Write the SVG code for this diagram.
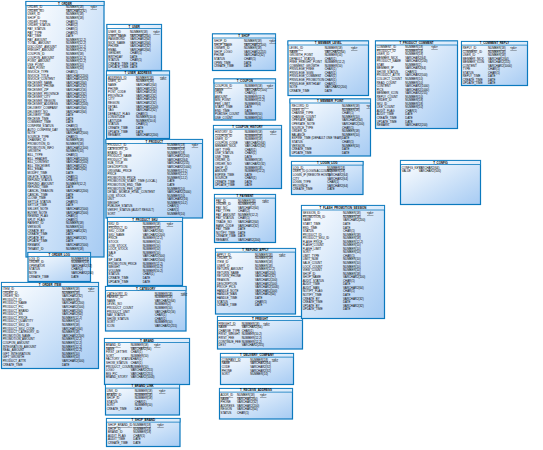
<svg xmlns="http://www.w3.org/2000/svg" width="543" height="450" viewBox="0 0 543 450">
<defs>
<linearGradient id="g" x1="0" y1="0" x2="1" y2="1"><stop offset="0" stop-color="#ffffff"/><stop offset="1" stop-color="#a6cbf3"/></linearGradient>
<linearGradient id="gh" x1="0" y1="0" x2="1" y2="0"><stop offset="0" stop-color="#ffffff"/><stop offset="1" stop-color="#d8e9fa"/></linearGradient>
</defs>
<style>
.box{fill:url(#g);stroke:#0b79be;stroke-width:1.2}
.hd{fill:url(#gh);stroke:#0b79be;stroke-width:0.8}
text{font-family:"Liberation Sans",Arial,sans-serif;font-size:2.9px;fill:#000}
.t{text-anchor:middle;font-weight:bold}
.pk{text-decoration:underline}
</style>
<rect width="543" height="450" fill="#ffffff"/>
<g id="connectors"/>

<g id="t_order">
<rect class="box" x="26" y="1.5" width="78" height="255.5"/>
<rect class="hd" x="26" y="1.5" width="78" height="4"/>
<text class="t" x="65" y="4.7">T_ORDER</text>
<text x="27.5" y="4.7"><tspan x="27.5" dy="3.6" class="pk">ORDER_ID</tspan><tspan x="27.5" dy="3.6">ORDER_NO</tspan><tspan x="27.5" dy="3.6">USER_ID</tspan><tspan x="27.5" dy="3.6">SHOP_ID</tspan><tspan x="27.5" dy="3.6">ORDER_TYPE</tspan><tspan x="27.5" dy="3.6">ORDER_STATUS</tspan><tspan x="27.5" dy="3.6">PAY_STATUS</tspan><tspan x="27.5" dy="3.6">PAY_TYPE</tspan><tspan x="27.5" dy="3.6">PAY_TIME</tspan><tspan x="27.5" dy="3.6">PAY_AMOUNT</tspan><tspan x="27.5" dy="3.6">TOTAL_AMOUNT</tspan><tspan x="27.5" dy="3.6">DISCOUNT_AMOUNT</tspan><tspan x="27.5" dy="3.6">FREIGHT_AMOUNT</tspan><tspan x="27.5" dy="3.6">COUPON_ID</tspan><tspan x="27.5" dy="3.6">COUPON_AMOUNT</tspan><tspan x="27.5" dy="3.6">POINT_AMOUNT</tspan><tspan x="27.5" dy="3.6">USE_POINT</tspan><tspan x="27.5" dy="3.6">GAIN_POINT</tspan><tspan x="27.5" dy="3.6">INVOICE_TYPE</tspan><tspan x="27.5" dy="3.6">INVOICE_TITLE</tspan><tspan x="27.5" dy="3.6">INVOICE_CONTENT</tspan><tspan x="27.5" dy="3.6">RECEIVER_NAME</tspan><tspan x="27.5" dy="3.6">RECEIVER_PHONE</tspan><tspan x="27.5" dy="3.6">RECEIVER_ZIP</tspan><tspan x="27.5" dy="3.6">RECEIVER_PROVINCE</tspan><tspan x="27.5" dy="3.6">RECEIVER_CITY</tspan><tspan x="27.5" dy="3.6">RECEIVER_REGION</tspan><tspan x="27.5" dy="3.6">RECEIVER_ADDRESS</tspan><tspan x="27.5" dy="3.6">DELIVERY_COMPANY</tspan><tspan x="27.5" dy="3.6">DELIVERY_NO</tspan><tspan x="27.5" dy="3.6">DELIVERY_TIME</tspan><tspan x="27.5" dy="3.6">RECEIVE_TIME</tspan><tspan x="27.5" dy="3.6">COMMENT_TIME</tspan><tspan x="27.5" dy="3.6">CONFIRM_STATUS</tspan><tspan x="27.5" dy="3.6">AUTO_CONFIRM_DAY</tspan><tspan x="27.5" dy="3.6">NOTE</tspan><tspan x="27.5" dy="3.6">SOURCE_TYPE</tspan><tspan x="27.5" dy="3.6">CHANNEL_ID</tspan><tspan x="27.5" dy="3.6">PROMOTION_ID</tspan><tspan x="27.5" dy="3.6">PROMOTION_INFO</tspan><tspan x="27.5" dy="3.6">GROWTH</tspan><tspan x="27.5" dy="3.6">BILL_TYPE</tspan><tspan x="27.5" dy="3.6">BILL_HEADER</tspan><tspan x="27.5" dy="3.6">BILL_CONTENT</tspan><tspan x="27.5" dy="3.6">BILL_RECEIVER</tspan><tspan x="27.5" dy="3.6">BILL_EMAIL</tspan><tspan x="27.5" dy="3.6">MODIFY_TIME</tspan><tspan x="27.5" dy="3.6">DELETE_STATUS</tspan><tspan x="27.5" dy="3.6">REFUND_STATUS</tspan><tspan x="27.5" dy="3.6">REFUND_AMOUNT</tspan><tspan x="27.5" dy="3.6">REFUND_TIME</tspan><tspan x="27.5" dy="3.6">CANCEL_REASON</tspan><tspan x="27.5" dy="3.6">CANCEL_TIME</tspan><tspan x="27.5" dy="3.6">CLOSE_TIME</tspan><tspan x="27.5" dy="3.6">SETTLE_STATUS</tspan><tspan x="27.5" dy="3.6">SETTLE_TIME</tspan><tspan x="27.5" dy="3.6">SELLER_NOTE</tspan><tspan x="27.5" dy="3.6">BUYER_NOTE</tspan><tspan x="27.5" dy="3.6">REMIND_FLAG</tspan><tspan x="27.5" dy="3.6">SPLIT_FLAG</tspan><tspan x="27.5" dy="3.6">PARENT_ID</tspan><tspan x="27.5" dy="3.6">VERSION</tspan><tspan x="27.5" dy="3.6">CREATE_BY</tspan><tspan x="27.5" dy="3.6">CREATE_TIME</tspan><tspan x="27.5" dy="3.6">UPDATE_BY</tspan><tspan x="27.5" dy="3.6">UPDATE_TIME</tspan><tspan x="27.5" dy="3.6">REMARK</tspan><tspan x="27.5" dy="3.6">TENANT_ID</tspan></text>
<text x="66" y="4.7"><tspan x="66" dy="3.6" class="pk">NUMBER(18)</tspan><tspan x="66" dy="3.6">VARCHAR2(32)</tspan><tspan x="66" dy="3.6">NUMBER(18)</tspan><tspan x="66" dy="3.6">NUMBER(18)</tspan><tspan x="66" dy="3.6">CHAR(1)</tspan><tspan x="66" dy="3.6">CHAR(2)</tspan><tspan x="66" dy="3.6">CHAR(1)</tspan><tspan x="66" dy="3.6">CHAR(2)</tspan><tspan x="66" dy="3.6">DATE</tspan><tspan x="66" dy="3.6">NUMBER(12,2)</tspan><tspan x="66" dy="3.6">NUMBER(12,2)</tspan><tspan x="66" dy="3.6">NUMBER(12,2)</tspan><tspan x="66" dy="3.6">NUMBER(12,2)</tspan><tspan x="66" dy="3.6">NUMBER(18)</tspan><tspan x="66" dy="3.6">NUMBER(12,2)</tspan><tspan x="66" dy="3.6">NUMBER(12,2)</tspan><tspan x="66" dy="3.6">NUMBER(10)</tspan><tspan x="66" dy="3.6">NUMBER(10)</tspan><tspan x="66" dy="3.6">CHAR(1)</tspan><tspan x="66" dy="3.6">VARCHAR2(200)</tspan><tspan x="66" dy="3.6">VARCHAR2(200)</tspan><tspan x="66" dy="3.6">VARCHAR2(64)</tspan><tspan x="66" dy="3.6">VARCHAR2(32)</tspan><tspan x="66" dy="3.6">VARCHAR2(16)</tspan><tspan x="66" dy="3.6">VARCHAR2(32)</tspan><tspan x="66" dy="3.6">VARCHAR2(32)</tspan><tspan x="66" dy="3.6">VARCHAR2(32)</tspan><tspan x="66" dy="3.6">VARCHAR2(200)</tspan><tspan x="66" dy="3.6">VARCHAR2(64)</tspan><tspan x="66" dy="3.6">VARCHAR2(64)</tspan><tspan x="66" dy="3.6">DATE</tspan><tspan x="66" dy="3.6">DATE</tspan><tspan x="66" dy="3.6">DATE</tspan><tspan x="66" dy="3.6">CHAR(1)</tspan><tspan x="66" dy="3.6">NUMBER(4)</tspan><tspan x="66" dy="3.6">VARCHAR2(500)</tspan><tspan x="66" dy="3.6">CHAR(1)</tspan><tspan x="66" dy="3.6">NUMBER(18)</tspan><tspan x="66" dy="3.6">NUMBER(18)</tspan><tspan x="66" dy="3.6">VARCHAR2(100)</tspan><tspan x="66" dy="3.6">NUMBER(10)</tspan><tspan x="66" dy="3.6">CHAR(1)</tspan><tspan x="66" dy="3.6">VARCHAR2(200)</tspan><tspan x="66" dy="3.6">VARCHAR2(200)</tspan><tspan x="66" dy="3.6">VARCHAR2(32)</tspan><tspan x="66" dy="3.6">VARCHAR2(64)</tspan><tspan x="66" dy="3.6">DATE</tspan><tspan x="66" dy="3.6">CHAR(1)</tspan><tspan x="66" dy="3.6">CHAR(1)</tspan><tspan x="66" dy="3.6">NUMBER(12,2)</tspan><tspan x="66" dy="3.6">DATE</tspan><tspan x="66" dy="3.6">VARCHAR2(200)</tspan><tspan x="66" dy="3.6">DATE</tspan><tspan x="66" dy="3.6">DATE</tspan><tspan x="66" dy="3.6">CHAR(1)</tspan><tspan x="66" dy="3.6">DATE</tspan><tspan x="66" dy="3.6">VARCHAR2(500)</tspan><tspan x="66" dy="3.6">VARCHAR2(500)</tspan><tspan x="66" dy="3.6">CHAR(1)</tspan><tspan x="66" dy="3.6">CHAR(1)</tspan><tspan x="66" dy="3.6">NUMBER(18)</tspan><tspan x="66" dy="3.6">NUMBER(10)</tspan><tspan x="66" dy="3.6">VARCHAR2(32)</tspan><tspan x="66" dy="3.6">DATE</tspan><tspan x="66" dy="3.6">VARCHAR2(32)</tspan><tspan x="66" dy="3.6">DATE</tspan><tspan x="66" dy="3.6">VARCHAR2(500)</tspan><tspan x="66" dy="3.6">NUMBER(18)</tspan></text>
<text x="90.5" y="8.3" class="pk">&lt;pk&gt;</text>
</g>

<g id="t_order_log">
<rect class="box" x="28" y="252.5" width="62.5" height="29"/>
<rect class="hd" x="28" y="252.5" width="62.5" height="4"/>
<text class="t" x="59.25" y="255.7">T_ORDER_LOG</text>
<text x="29" y="255.9"><tspan x="29" dy="3.6" class="pk">LOG_ID</tspan><tspan x="29" dy="3.6">ORDER_ID</tspan><tspan x="29" dy="3.6">OPERATOR</tspan><tspan x="29" dy="3.6">STATUS</tspan><tspan x="29" dy="3.6">NOTE</tspan><tspan x="29" dy="3.6">CREATE_TIME</tspan></text>
<text x="71.3" y="255.9"><tspan x="71.3" dy="3.6" class="pk">NUMBER(18)</tspan><tspan x="71.3" dy="3.6">NUMBER(18)</tspan><tspan x="71.3" dy="3.6">VARCHAR2(32)</tspan><tspan x="71.3" dy="3.6">CHAR(2)</tspan><tspan x="71.3" dy="3.6">VARCHAR2(200)</tspan><tspan x="71.3" dy="3.6">DATE</tspan></text>
</g>

<g id="t_order_item">
<rect class="box" x="1.5" y="282.5" width="97" height="86"/>
<rect class="hd" x="1.5" y="282.5" width="97" height="4"/>
<text class="t" x="50" y="285.7">T_ORDER_ITEM</text>
<text x="2.7" y="286.4"><tspan x="2.7" dy="3.6" class="pk">ITEM_ID</tspan><tspan x="2.7" dy="3.6">ORDER_ID</tspan><tspan x="2.7" dy="3.6">ORDER_NO</tspan><tspan x="2.7" dy="3.6">PRODUCT_ID</tspan><tspan x="2.7" dy="3.6">PRODUCT_NAME</tspan><tspan x="2.7" dy="3.6">PRODUCT_PIC</tspan><tspan x="2.7" dy="3.6">PRODUCT_BRAND</tspan><tspan x="2.7" dy="3.6">PRODUCT_SN</tspan><tspan x="2.7" dy="3.6">PRODUCT_PRICE</tspan><tspan x="2.7" dy="3.6">PRODUCT_QUANTITY</tspan><tspan x="2.7" dy="3.6">PRODUCT_SKU_ID</tspan><tspan x="2.7" dy="3.6">PRODUCT_SKU_CODE</tspan><tspan x="2.7" dy="3.6">PRODUCT_CATEGORY_ID</tspan><tspan x="2.7" dy="3.6">PROMOTION_NAME</tspan><tspan x="2.7" dy="3.6">PROMOTION_AMOUNT</tspan><tspan x="2.7" dy="3.6">COUPON_AMOUNT</tspan><tspan x="2.7" dy="3.6">INTEGRATION_AMOUNT</tspan><tspan x="2.7" dy="3.6">REAL_AMOUNT</tspan><tspan x="2.7" dy="3.6">GIFT_INTEGRATION</tspan><tspan x="2.7" dy="3.6">GIFT_GROWTH</tspan><tspan x="2.7" dy="3.6">PRODUCT_ATTR</tspan><tspan x="2.7" dy="3.6">CREATE_TIME</tspan></text>
<text x="62" y="286.4"><tspan x="62" dy="3.6" class="pk">NUMBER(18)</tspan><tspan x="62" dy="3.6">NUMBER(18)</tspan><tspan x="62" dy="3.6">VARCHAR2(32)</tspan><tspan x="62" dy="3.6">NUMBER(18)</tspan><tspan x="62" dy="3.6">VARCHAR2(200)</tspan><tspan x="62" dy="3.6">VARCHAR2(500)</tspan><tspan x="62" dy="3.6">VARCHAR2(64)</tspan><tspan x="62" dy="3.6">VARCHAR2(64)</tspan><tspan x="62" dy="3.6">NUMBER(12,2)</tspan><tspan x="62" dy="3.6">NUMBER(10)</tspan><tspan x="62" dy="3.6">NUMBER(18)</tspan><tspan x="62" dy="3.6">VARCHAR2(64)</tspan><tspan x="62" dy="3.6">NUMBER(18)</tspan><tspan x="62" dy="3.6">VARCHAR2(200)</tspan><tspan x="62" dy="3.6">NUMBER(12,2)</tspan><tspan x="62" dy="3.6">NUMBER(12,2)</tspan><tspan x="62" dy="3.6">NUMBER(12,2)</tspan><tspan x="62" dy="3.6">NUMBER(12,2)</tspan><tspan x="62" dy="3.6">NUMBER(10)</tspan><tspan x="62" dy="3.6">NUMBER(10)</tspan><tspan x="62" dy="3.6">VARCHAR2(500)</tspan><tspan x="62" dy="3.6">DATE</tspan></text>
<text x="88" y="290" class="pk">&lt;pk&gt;</text>
</g>

<g id="t_user">
<rect class="box" x="107" y="24.5" width="54.5" height="46"/>
<rect class="hd" x="107" y="24.5" width="54.5" height="4"/>
<text class="t" x="134.25" y="27.7">T_USER</text>
<text x="108.3" y="29.7"><tspan x="108.3" dy="3.5" class="pk">USER_ID</tspan><tspan x="108.3" dy="3.5">USER_NAME</tspan><tspan x="108.3" dy="3.5">PASSWORD</tspan><tspan x="108.3" dy="3.5">NICK_NAME</tspan><tspan x="108.3" dy="3.5">PHONE</tspan><tspan x="108.3" dy="3.5">EMAIL</tspan><tspan x="108.3" dy="3.5">GENDER</tspan><tspan x="108.3" dy="3.5">BIRTHDAY</tspan><tspan x="108.3" dy="3.5">STATUS</tspan><tspan x="108.3" dy="3.5">CREATE_TIME</tspan><tspan x="108.3" dy="3.5">UPDATE_TIME</tspan></text>
<text x="130" y="29.7"><tspan x="130" dy="3.5" class="pk">NUMBER(18)</tspan><tspan x="130" dy="3.5">VARCHAR2(64)</tspan><tspan x="130" dy="3.5">VARCHAR2(64)</tspan><tspan x="130" dy="3.5">VARCHAR2(64)</tspan><tspan x="130" dy="3.5">VARCHAR2(32)</tspan><tspan x="130" dy="3.5">VARCHAR2(64)</tspan><tspan x="130" dy="3.5">CHAR(1)</tspan><tspan x="130" dy="3.5">DATE</tspan><tspan x="130" dy="3.5">CHAR(1)</tspan><tspan x="130" dy="3.5">DATE</tspan><tspan x="130" dy="3.5">DATE</tspan></text>
<text x="153.3" y="33.2" class="pk">&lt;pk&gt;</text>
</g>

<g id="t_user_address">
<rect class="box" x="106.5" y="71" width="63" height="67.5"/>
<rect class="hd" x="106.5" y="71" width="63" height="4"/>
<text class="t" x="138" y="74.2">T_USER_ADDRESS</text>
<text x="108" y="75.1"><tspan x="108" dy="3.6" class="pk">ADDRESS_ID</tspan><tspan x="108" dy="3.6">USER_ID</tspan><tspan x="108" dy="3.6">NAME</tspan><tspan x="108" dy="3.6">PHONE</tspan><tspan x="108" dy="3.6">POST_CODE</tspan><tspan x="108" dy="3.6">PROVINCE</tspan><tspan x="108" dy="3.6">CITY</tspan><tspan x="108" dy="3.6">REGION</tspan><tspan x="108" dy="3.6">DETAIL</tspan><tspan x="108" dy="3.6">TAG</tspan><tspan x="108" dy="3.6">DEFAULT_FLAG</tspan><tspan x="108" dy="3.6">LONGITUDE</tspan><tspan x="108" dy="3.6">LATITUDE</tspan><tspan x="108" dy="3.6">STATUS</tspan><tspan x="108" dy="3.6">CREATE_TIME</tspan><tspan x="108" dy="3.6">UPDATE_TIME</tspan><tspan x="108" dy="3.6">REMARK</tspan></text>
<text x="136" y="75.1"><tspan x="136" dy="3.6" class="pk">NUMBER(18)</tspan><tspan x="136" dy="3.6">NUMBER(18)</tspan><tspan x="136" dy="3.6">VARCHAR2(64)</tspan><tspan x="136" dy="3.6">VARCHAR2(32)</tspan><tspan x="136" dy="3.6">VARCHAR2(16)</tspan><tspan x="136" dy="3.6">VARCHAR2(32)</tspan><tspan x="136" dy="3.6">VARCHAR2(32)</tspan><tspan x="136" dy="3.6">VARCHAR2(32)</tspan><tspan x="136" dy="3.6">VARCHAR2(200)</tspan><tspan x="136" dy="3.6">VARCHAR2(32)</tspan><tspan x="136" dy="3.6">CHAR(1)</tspan><tspan x="136" dy="3.6">NUMBER(10,6)</tspan><tspan x="136" dy="3.6">NUMBER(10,6)</tspan><tspan x="136" dy="3.6">CHAR(1)</tspan><tspan x="136" dy="3.6">DATE</tspan><tspan x="136" dy="3.6">DATE</tspan><tspan x="136" dy="3.6">VARCHAR2(200)</tspan></text>
<text x="160" y="78.7" class="pk">&lt;pk&gt;</text>
</g>

<g id="t_product">
<rect class="box" x="106" y="139.5" width="96.5" height="78.5"/>
<rect class="hd" x="106" y="139.5" width="96.5" height="4"/>
<text class="t" x="154.25" y="142.7">T_PRODUCT</text>
<text x="107.5" y="142.7"><tspan x="107.5" dy="3.6" class="pk">PRODUCT_ID</tspan><tspan x="107.5" dy="3.6">CATEGORY_ID</tspan><tspan x="107.5" dy="3.6">BRAND_ID</tspan><tspan x="107.5" dy="3.6">PRODUCT_NAME</tspan><tspan x="107.5" dy="3.6">PRODUCT_SN</tspan><tspan x="107.5" dy="3.6">SUB_TITLE</tspan><tspan x="107.5" dy="3.6">DESCRIPTION</tspan><tspan x="107.5" dy="3.6">ORIGINAL_PRICE</tspan><tspan x="107.5" dy="3.6">PRICE</tspan><tspan x="107.5" dy="3.6">PROMOTION_PRICE</tspan><tspan x="107.5" dy="3.6">PROMOTION_START_TIME (LOCAL)</tspan><tspan x="107.5" dy="3.6">PROMOTION_END_TIME</tspan><tspan x="107.5" dy="3.6">PROMOTION_PER_LIMIT</tspan><tspan x="107.5" dy="3.6">DETAIL_MOBILE_HTML_CONTENT</tspan><tspan x="107.5" dy="3.6">LOW_STOCK</tspan><tspan x="107.5" dy="3.6">UNIT</tspan><tspan x="107.5" dy="3.6">WEIGHT</tspan><tspan x="107.5" dy="3.6">PUBLISH_STATUS</tspan><tspan x="107.5" dy="3.6">VERIFY_STATUS (AUDIT RESULT)</tspan><tspan x="107.5" dy="3.6">SORT</tspan></text>
<text x="167.3" y="142.7"><tspan x="167.3" dy="3.6" class="pk">NUMBER(18)</tspan><tspan x="167.3" dy="3.6">NUMBER(18)</tspan><tspan x="167.3" dy="3.6">NUMBER(18)</tspan><tspan x="167.3" dy="3.6">VARCHAR2(200)</tspan><tspan x="167.3" dy="3.6">VARCHAR2(64)</tspan><tspan x="167.3" dy="3.6">VARCHAR2(255)</tspan><tspan x="167.3" dy="3.6">VARCHAR2(1000)</tspan><tspan x="167.3" dy="3.6">NUMBER(12,2)</tspan><tspan x="167.3" dy="3.6">NUMBER(12,2)</tspan><tspan x="167.3" dy="3.6">NUMBER(12,2)</tspan><tspan x="167.3" dy="3.6">DATE</tspan><tspan x="167.3" dy="3.6">DATE</tspan><tspan x="167.3" dy="3.6">NUMBER(10)</tspan><tspan x="167.3" dy="3.6">VARCHAR2(2000)</tspan><tspan x="167.3" dy="3.6">NUMBER(10)</tspan><tspan x="167.3" dy="3.6">VARCHAR2(16)</tspan><tspan x="167.3" dy="3.6">NUMBER(10,2)</tspan><tspan x="167.3" dy="3.6">CHAR(1)</tspan><tspan x="167.3" dy="3.6">CHAR(1)</tspan><tspan x="167.3" dy="3.6">NUMBER(10)</tspan></text>
<text x="191.7" y="146.3" class="pk">&lt;pk&gt;</text>
</g>

<g id="t_product_sku">
<rect class="box" x="107.5" y="217.5" width="75" height="68"/>
<rect class="hd" x="107.5" y="217.5" width="75" height="4"/>
<text class="t" x="145" y="220.7">T_PRODUCT_SKU</text>
<text x="108.5" y="221.4"><tspan x="108.5" dy="3.6" class="pk">SKU_ID</tspan><tspan x="108.5" dy="3.6">PRODUCT_ID</tspan><tspan x="108.5" dy="3.6">SKU_CODE</tspan><tspan x="108.5" dy="3.6">SKU_NAME</tspan><tspan x="108.5" dy="3.6">PRICE</tspan><tspan x="108.5" dy="3.6">STOCK</tspan><tspan x="108.5" dy="3.6">LOW_STOCK</tspan><tspan x="108.5" dy="3.6">LOCK_STOCK</tspan><tspan x="108.5" dy="3.6">SALE</tspan><tspan x="108.5" dy="3.6">PIC</tspan><tspan x="108.5" dy="3.6">SP_DATA</tspan><tspan x="108.5" dy="3.6">PROMOTION_PRICE</tspan><tspan x="108.5" dy="3.6">WEIGHT</tspan><tspan x="108.5" dy="3.6">VOLUME</tspan><tspan x="108.5" dy="3.6">STATUS</tspan><tspan x="108.5" dy="3.6">CREATE_TIME</tspan><tspan x="108.5" dy="3.6">UPDATE_TIME</tspan></text>
<text x="142.7" y="221.4"><tspan x="142.7" dy="3.6" class="pk">NUMBER(18)</tspan><tspan x="142.7" dy="3.6">NUMBER(18)</tspan><tspan x="142.7" dy="3.6">VARCHAR2(64)</tspan><tspan x="142.7" dy="3.6">VARCHAR2(200)</tspan><tspan x="142.7" dy="3.6">NUMBER(12,2)</tspan><tspan x="142.7" dy="3.6">NUMBER(10)</tspan><tspan x="142.7" dy="3.6">NUMBER(10)</tspan><tspan x="142.7" dy="3.6">NUMBER(10)</tspan><tspan x="142.7" dy="3.6">NUMBER(10)</tspan><tspan x="142.7" dy="3.6">VARCHAR2(500)</tspan><tspan x="142.7" dy="3.6">VARCHAR2(500)</tspan><tspan x="142.7" dy="3.6">NUMBER(12,2)</tspan><tspan x="142.7" dy="3.6">NUMBER(10,2)</tspan><tspan x="142.7" dy="3.6">NUMBER(10,2)</tspan><tspan x="142.7" dy="3.6">CHAR(1)</tspan><tspan x="142.7" dy="3.6">DATE</tspan><tspan x="142.7" dy="3.6">DATE</tspan></text>
<text x="166.7" y="225" class="pk">&lt;pk&gt;</text>
</g>

<g id="t_category">
<rect class="box" x="105.5" y="286.5" width="80.5" height="44.5"/>
<rect class="hd" x="105.5" y="286.5" width="80.5" height="4"/>
<text class="t" x="145.75" y="289.7">T_CATEGORY</text>
<text x="107" y="290.9"><tspan x="107" dy="3.6" class="pk">CATEGORY_ID</tspan><tspan x="107" dy="3.6">PARENT_ID</tspan><tspan x="107" dy="3.6">NAME</tspan><tspan x="107" dy="3.6">LEVEL_NO</tspan><tspan x="107" dy="3.6">PRODUCT_COUNT</tspan><tspan x="107" dy="3.6">PRODUCT_UNIT</tspan><tspan x="107" dy="3.6">NAV_STATUS</tspan><tspan x="107" dy="3.6">SHOW_STATUS</tspan><tspan x="107" dy="3.6">SORT</tspan><tspan x="107" dy="3.6">ICON</tspan></text>
<text x="154.7" y="290.9"><tspan x="154.7" dy="3.6" class="pk">NUMBER(18)</tspan><tspan x="154.7" dy="3.6">NUMBER(18)</tspan><tspan x="154.7" dy="3.6">VARCHAR2(64)</tspan><tspan x="154.7" dy="3.6">NUMBER(2)</tspan><tspan x="154.7" dy="3.6">NUMBER(10)</tspan><tspan x="154.7" dy="3.6">VARCHAR2(16)</tspan><tspan x="154.7" dy="3.6">CHAR(1)</tspan><tspan x="154.7" dy="3.6">CHAR(1)</tspan><tspan x="154.7" dy="3.6">NUMBER(10)</tspan><tspan x="154.7" dy="3.6">VARCHAR2(255)</tspan></text>
<text x="180.7" y="294.5" class="pk">&lt;pk&gt;</text>
</g>

<g id="t_brand">
<rect class="box" x="104.5" y="338.5" width="85" height="46"/>
<rect class="hd" x="104.5" y="338.5" width="85" height="4"/>
<text class="t" x="147" y="341.7">T_BRAND</text>
<text x="106" y="342.4"><tspan x="106" dy="3.6" class="pk">BRAND_ID</tspan><tspan x="106" dy="3.6">NAME</tspan><tspan x="106" dy="3.6">FIRST_LETTER</tspan><tspan x="106" dy="3.6">SORT</tspan><tspan x="106" dy="3.6">FACTORY_STATUS</tspan><tspan x="106" dy="3.6">SHOW_STATUS</tspan><tspan x="106" dy="3.6">PRODUCT_COUNT</tspan><tspan x="106" dy="3.6">LOGO</tspan><tspan x="106" dy="3.6">BIG_PIC</tspan><tspan x="106" dy="3.6">BRAND_STORY</tspan></text>
<text x="130.7" y="342.4"><tspan x="130.7" dy="3.6" class="pk">NUMBER(18)</tspan><tspan x="130.7" dy="3.6">VARCHAR2(64)</tspan><tspan x="130.7" dy="3.6">CHAR(1)</tspan><tspan x="130.7" dy="3.6">NUMBER(10)</tspan><tspan x="130.7" dy="3.6">CHAR(1)</tspan><tspan x="130.7" dy="3.6">CHAR(1)</tspan><tspan x="130.7" dy="3.6">NUMBER(10)</tspan><tspan x="130.7" dy="3.6">VARCHAR2(255)</tspan><tspan x="130.7" dy="3.6">VARCHAR2(255)</tspan><tspan x="130.7" dy="3.6">VARCHAR2(1000)</tspan></text>
<text x="154" y="346" class="pk">&lt;pk&gt;</text>
</g>

<g id="t_brand_link">
<rect class="box" x="105.5" y="384.5" width="74" height="30.5"/>
<rect class="hd" x="105.5" y="384.5" width="74" height="3.6"/>
<text class="t" x="142.5" y="387.4">T_BRAND_LINK</text>
<text x="106.7" y="388.4"><tspan x="106.7" dy="3.6" class="pk">LINK_ID</tspan><tspan x="106.7" dy="3.6">BRAND_ID</tspan><tspan x="106.7" dy="3.6">SHOP_ID</tspan><tspan x="106.7" dy="3.6">STATUS</tspan><tspan x="106.7" dy="3.6">SORT</tspan><tspan x="106.7" dy="3.6">CREATE_TIME</tspan></text>
<text x="134.7" y="388.4"><tspan x="134.7" dy="3.6" class="pk">NUMBER(18)</tspan><tspan x="134.7" dy="3.6">NUMBER(18)</tspan><tspan x="134.7" dy="3.6">NUMBER(18)</tspan><tspan x="134.7" dy="3.6">CHAR(1)</tspan><tspan x="134.7" dy="3.6">NUMBER(10)</tspan><tspan x="134.7" dy="3.6">DATE</tspan></text>
<text x="159" y="392" class="pk">&lt;pk&gt;</text>
</g>

<g id="t_shop_brand">
<rect class="box" x="106.5" y="418.5" width="73.5" height="28"/>
<rect class="hd" x="106.5" y="418.5" width="73.5" height="3.6"/>
<text class="t" x="143.25" y="421.4">T_SHOP_BRAND</text>
<text x="108" y="422.4"><tspan x="108" dy="3.6" class="pk">SHOP_BRAND_ID</tspan><tspan x="108" dy="3.6">SHOP_ID</tspan><tspan x="108" dy="3.6">BRAND_ID</tspan><tspan x="108" dy="3.6">AUDIT_FLAG</tspan><tspan x="108" dy="3.6">AUDIT_TIME</tspan><tspan x="108" dy="3.6">CREATE_TIME</tspan></text>
<text x="133.3" y="422.4"><tspan x="133.3" dy="3.6" class="pk">NUMBER(18)</tspan><tspan x="133.3" dy="3.6">NUMBER(18)</tspan><tspan x="133.3" dy="3.6">NUMBER(18)</tspan><tspan x="133.3" dy="3.6">CHAR(1)</tspan><tspan x="133.3" dy="3.6">DATE</tspan><tspan x="133.3" dy="3.6">DATE</tspan></text>
<text x="157.3" y="426" class="pk">&lt;pk&gt;</text>
</g>

<g id="t_shop">
<rect class="box" x="212.5" y="34" width="63" height="36.5"/>
<rect class="hd" x="212.5" y="34" width="63" height="4"/>
<text class="t" x="244" y="37.2">T_SHOP</text>
<text x="214" y="38.4"><tspan x="214" dy="3.6" class="pk">SHOP_ID</tspan><tspan x="214" dy="3.6">SHOP_NAME</tspan><tspan x="214" dy="3.6">OWNER_ID</tspan><tspan x="214" dy="3.6">SHOP_LOGO</tspan><tspan x="214" dy="3.6">PHONE</tspan><tspan x="214" dy="3.6">STATUS</tspan><tspan x="214" dy="3.6">OPEN_TIME</tspan><tspan x="214" dy="3.6">CREATE_TIME</tspan></text>
<text x="244" y="38.4"><tspan x="244" dy="3.6" class="pk">NUMBER(18)</tspan><tspan x="244" dy="3.6">VARCHAR2(100)</tspan><tspan x="244" dy="3.6">NUMBER(18)</tspan><tspan x="244" dy="3.6">VARCHAR2(255)</tspan><tspan x="244" dy="3.6">VARCHAR2(32)</tspan><tspan x="244" dy="3.6">CHAR(1)</tspan><tspan x="244" dy="3.6">DATE</tspan><tspan x="244" dy="3.6">DATE</tspan></text>
<text x="269.3" y="42" class="pk">&lt;pk&gt;</text>
</g>

<g id="t_coupon">
<rect class="box" x="214" y="79" width="61.5" height="41"/>
<rect class="hd" x="214" y="79" width="61.5" height="4"/>
<text class="t" x="244.75" y="82.2">T_COUPON</text>
<text x="215" y="83.5"><tspan x="215" dy="3.5" class="pk">COUPON_ID</tspan><tspan x="215" dy="3.5">NAME</tspan><tspan x="215" dy="3.5">TYPE</tspan><tspan x="215" dy="3.5">AMOUNT</tspan><tspan x="215" dy="3.5">MIN_POINT</tspan><tspan x="215" dy="3.5">PER_LIMIT</tspan><tspan x="215" dy="3.5">START_TIME</tspan><tspan x="215" dy="3.5">END_TIME</tspan><tspan x="215" dy="3.5">PUBLISH_COUNT</tspan><tspan x="215" dy="3.5">USE_COUNT</tspan></text>
<text x="244.7" y="83.5"><tspan x="244.7" dy="3.5" class="pk">NUMBER(18)</tspan><tspan x="244.7" dy="3.5">VARCHAR2(100)</tspan><tspan x="244.7" dy="3.5">CHAR(1)</tspan><tspan x="244.7" dy="3.5">NUMBER(12,2)</tspan><tspan x="244.7" dy="3.5">NUMBER(12,2)</tspan><tspan x="244.7" dy="3.5">NUMBER(4)</tspan><tspan x="244.7" dy="3.5">DATE</tspan><tspan x="244.7" dy="3.5">DATE</tspan><tspan x="244.7" dy="3.5">NUMBER(10)</tspan><tspan x="244.7" dy="3.5">NUMBER(10)</tspan></text>
<text x="266.7" y="87" class="pk">&lt;pk&gt;</text>
</g>

<g id="t_coupon_history">
<rect class="box" x="213.5" y="125.5" width="68" height="63"/>
<rect class="hd" x="213.5" y="125.5" width="68" height="3.6"/>
<text class="t" x="247.5" y="128.4">T_COUPON_HISTORY</text>
<text x="215" y="129.45"><tspan x="215" dy="3.55" class="pk">HISTORY_ID</tspan><tspan x="215" dy="3.55">COUPON_ID</tspan><tspan x="215" dy="3.55">USER_ID</tspan><tspan x="215" dy="3.55">COUPON_CODE</tspan><tspan x="215" dy="3.55">MEMBER_NICK</tspan><tspan x="215" dy="3.55">GET_TYPE</tspan><tspan x="215" dy="3.55">USE_STATUS</tspan><tspan x="215" dy="3.55">USE_TIME</tspan><tspan x="215" dy="3.55">ORDER_ID</tspan><tspan x="215" dy="3.55">ORDER_NO</tspan><tspan x="215" dy="3.55">SHOP_ID</tspan><tspan x="215" dy="3.55">AMOUNT</tspan><tspan x="215" dy="3.55">EXPIRE_TIME</tspan><tspan x="215" dy="3.55">SOURCE</tspan><tspan x="215" dy="3.55">CREATE_TIME</tspan><tspan x="215" dy="3.55">UPDATE_TIME</tspan></text>
<text x="244.7" y="129.45"><tspan x="244.7" dy="3.55" class="pk">NUMBER(18)</tspan><tspan x="244.7" dy="3.55">NUMBER(18)</tspan><tspan x="244.7" dy="3.55">NUMBER(18)</tspan><tspan x="244.7" dy="3.55">VARCHAR2(64)</tspan><tspan x="244.7" dy="3.55">VARCHAR2(64)</tspan><tspan x="244.7" dy="3.55">CHAR(1)</tspan><tspan x="244.7" dy="3.55">CHAR(1)</tspan><tspan x="244.7" dy="3.55">DATE</tspan><tspan x="244.7" dy="3.55">NUMBER(18)</tspan><tspan x="244.7" dy="3.55">VARCHAR2(32)</tspan><tspan x="244.7" dy="3.55">NUMBER(18)</tspan><tspan x="244.7" dy="3.55">NUMBER(12,2)</tspan><tspan x="244.7" dy="3.55">DATE</tspan><tspan x="244.7" dy="3.55">CHAR(1)</tspan><tspan x="244.7" dy="3.55">DATE</tspan><tspan x="244.7" dy="3.55">DATE</tspan></text>
<text x="270" y="133" class="pk">&lt;pk&gt;</text>
</g>

<g id="t_payment">
<rect class="box" x="214.5" y="194.5" width="61" height="48"/>
<rect class="hd" x="214.5" y="194.5" width="61" height="3.6"/>
<text class="t" x="245" y="197.4">T_PAYMENT</text>
<text x="216" y="198.15"><tspan x="216" dy="3.55" class="pk">PAY_ID</tspan><tspan x="216" dy="3.55">ORDER_ID</tspan><tspan x="216" dy="3.55">PAY_NO</tspan><tspan x="216" dy="3.55">PAY_TYPE</tspan><tspan x="216" dy="3.55">PAY_AMOUNT</tspan><tspan x="216" dy="3.55">PAY_STATUS</tspan><tspan x="216" dy="3.55">TRADE_NO</tspan><tspan x="216" dy="3.55">BANK_CODE</tspan><tspan x="216" dy="3.55">PAY_TIME</tspan><tspan x="216" dy="3.55">NOTIFY_TIME</tspan><tspan x="216" dy="3.55">CREATE_TIME</tspan><tspan x="216" dy="3.55">REMARK</tspan></text>
<text x="238" y="198.15"><tspan x="238" dy="3.55" class="pk">NUMBER(18)</tspan><tspan x="238" dy="3.55">NUMBER(18)</tspan><tspan x="238" dy="3.55">VARCHAR2(64)</tspan><tspan x="238" dy="3.55">CHAR(2)</tspan><tspan x="238" dy="3.55">NUMBER(12,2)</tspan><tspan x="238" dy="3.55">CHAR(1)</tspan><tspan x="238" dy="3.55">VARCHAR2(64)</tspan><tspan x="238" dy="3.55">VARCHAR2(32)</tspan><tspan x="238" dy="3.55">DATE</tspan><tspan x="238" dy="3.55">DATE</tspan><tspan x="238" dy="3.55">DATE</tspan><tspan x="238" dy="3.55">VARCHAR2(200)</tspan></text>
<text x="262.3" y="201.7" class="pk">&lt;pk&gt;</text>
</g>

<g id="t_refund_apply">
<rect class="box" x="215.5" y="248.5" width="80" height="65.5"/>
<rect class="hd" x="215.5" y="248.5" width="80" height="3.6"/>
<text class="t" x="255.5" y="251.4">T_REFUND_APPLY</text>
<text x="217" y="252.1"><tspan x="217" dy="3.6" class="pk">APPLY_ID</tspan><tspan x="217" dy="3.6">ORDER_ID</tspan><tspan x="217" dy="3.6">ITEM_ID</tspan><tspan x="217" dy="3.6">USER_ID</tspan><tspan x="217" dy="3.6">RETURN_AMOUNT</tspan><tspan x="217" dy="3.6">RETURN_NAME</tspan><tspan x="217" dy="3.6">RETURN_PHONE</tspan><tspan x="217" dy="3.6">REASON</tspan><tspan x="217" dy="3.6">DESCRIPTION</tspan><tspan x="217" dy="3.6">PROOF_PICS</tspan><tspan x="217" dy="3.6">HANDLE_NOTE</tspan><tspan x="217" dy="3.6">HANDLE_MAN</tspan><tspan x="217" dy="3.6">HANDLE_TIME</tspan><tspan x="217" dy="3.6">STATUS</tspan><tspan x="217" dy="3.6">CREATE_TIME</tspan></text>
<text x="255" y="252.1"><tspan x="255" dy="3.6" class="pk">NUMBER(18)</tspan><tspan x="255" dy="3.6">NUMBER(18)</tspan><tspan x="255" dy="3.6">NUMBER(18)</tspan><tspan x="255" dy="3.6">NUMBER(18)</tspan><tspan x="255" dy="3.6">NUMBER(12,2)</tspan><tspan x="255" dy="3.6">VARCHAR2(64)</tspan><tspan x="255" dy="3.6">VARCHAR2(32)</tspan><tspan x="255" dy="3.6">VARCHAR2(200)</tspan><tspan x="255" dy="3.6">VARCHAR2(500)</tspan><tspan x="255" dy="3.6">VARCHAR2(1000)</tspan><tspan x="255" dy="3.6">VARCHAR2(500)</tspan><tspan x="255" dy="3.6">VARCHAR2(64)</tspan><tspan x="255" dy="3.6">DATE</tspan><tspan x="255" dy="3.6">CHAR(1)</tspan><tspan x="255" dy="3.6">DATE</tspan></text>
<text x="279" y="255.7" class="pk">&lt;pk&gt;</text>
</g>

<g id="t_freight">
<rect class="box" x="217.5" y="316.5" width="85" height="32.5"/>
<rect class="hd" x="217.5" y="316.5" width="85" height="4"/>
<text class="t" x="260" y="319.7">T_FREIGHT</text>
<text x="218.5" y="320.9"><tspan x="218.5" dy="3.6" class="pk">FREIGHT_ID</tspan><tspan x="218.5" dy="3.6">NAME</tspan><tspan x="218.5" dy="3.6">CHARGE_TYPE</tspan><tspan x="218.5" dy="3.6">FIRST_WEIGHT</tspan><tspan x="218.5" dy="3.6">FIRST_FEE</tspan><tspan x="218.5" dy="3.6">CONTINUE_FEE</tspan><tspan x="218.5" dy="3.6">DEST</tspan></text>
<text x="241.7" y="320.9"><tspan x="241.7" dy="3.6" class="pk">NUMBER(18)</tspan><tspan x="241.7" dy="3.6">VARCHAR2(64)</tspan><tspan x="241.7" dy="3.6">CHAR(1)</tspan><tspan x="241.7" dy="3.6">NUMBER(10,2)</tspan><tspan x="241.7" dy="3.6">NUMBER(12,2)</tspan><tspan x="241.7" dy="3.6">NUMBER(12,2)</tspan><tspan x="241.7" dy="3.6">VARCHAR2(255)</tspan></text>
<text x="263.3" y="324.5" class="pk">&lt;pk&gt;</text>
</g>

<g id="t_delivery_company">
<rect class="box" x="220.5" y="353.5" width="73" height="31"/>
<rect class="hd" x="220.5" y="353.5" width="73" height="3.6"/>
<text class="t" x="257" y="356.4">T_DELIVERY_COMPANY</text>
<text x="221.7" y="357.1"><tspan x="221.7" dy="3.6" class="pk">COMPANY_ID</tspan><tspan x="221.7" dy="3.6">NAME</tspan><tspan x="221.7" dy="3.6">CODE</tspan><tspan x="221.7" dy="3.6">PHONE</tspan><tspan x="221.7" dy="3.6">SORT</tspan></text>
<text x="250.3" y="357.1"><tspan x="250.3" dy="3.6" class="pk">NUMBER(18)</tspan><tspan x="250.3" dy="3.6">VARCHAR2(64)</tspan><tspan x="250.3" dy="3.6">VARCHAR2(32)</tspan><tspan x="250.3" dy="3.6">VARCHAR2(32)</tspan><tspan x="250.3" dy="3.6">NUMBER(10)</tspan></text>
<text x="271.7" y="360.7" class="pk">&lt;pk&gt;</text>
</g>

<g id="t_receive_address">
<rect class="box" x="219.5" y="388.5" width="73" height="30.5"/>
<rect class="hd" x="219.5" y="388.5" width="73" height="3.6"/>
<text class="t" x="256" y="391.4">T_RECEIVE_ADDRESS</text>
<text x="220.5" y="392.4"><tspan x="220.5" dy="3.6" class="pk">ADDR_ID</tspan><tspan x="220.5" dy="3.6">NAME</tspan><tspan x="220.5" dy="3.6">PHONE</tspan><tspan x="220.5" dy="3.6">ADDRESS</tspan><tspan x="220.5" dy="3.6">REGION</tspan><tspan x="220.5" dy="3.6">STATUS</tspan></text>
<text x="237" y="392.4"><tspan x="237" dy="3.6" class="pk">NUMBER(18)</tspan><tspan x="237" dy="3.6">VARCHAR2(64)</tspan><tspan x="237" dy="3.6">VARCHAR2(32)</tspan><tspan x="237" dy="3.6">VARCHAR2(200)</tspan><tspan x="237" dy="3.6">VARCHAR2(64)</tspan><tspan x="237" dy="3.6">CHAR(1)</tspan></text>
<text x="260" y="396" class="pk">&lt;pk&gt;</text>
</g>

<g id="t_member_level">
<rect class="box" x="288" y="41" width="80.5" height="54.5"/>
<rect class="hd" x="288" y="41" width="80.5" height="4"/>
<text class="t" x="328.25" y="44.2">T_MEMBER_LEVEL</text>
<text x="289.5" y="45.45"><tspan x="289.5" dy="3.55" class="pk">LEVEL_ID</tspan><tspan x="289.5" dy="3.55">NAME</tspan><tspan x="289.5" dy="3.55">GROWTH_POINT</tspan><tspan x="289.5" dy="3.55">DEFAULT_STATUS</tspan><tspan x="289.5" dy="3.55">FREE_FREIGHT_POINT</tspan><tspan x="289.5" dy="3.55">COMMENT_GROWTH</tspan><tspan x="289.5" dy="3.55">PRIVILEGE_FREE</tspan><tspan x="289.5" dy="3.55">PRIVILEGE_SIGN</tspan><tspan x="289.5" dy="3.55">PRIVILEGE_COMMENT</tspan><tspan x="289.5" dy="3.55">PRIVILEGE_PROMOTION</tspan><tspan x="289.5" dy="3.55">PRIVILEGE_BIRTHDAY</tspan><tspan x="289.5" dy="3.55">NOTE</tspan><tspan x="289.5" dy="3.55">CREATE_TIME</tspan></text>
<text x="324.7" y="45.45"><tspan x="324.7" dy="3.55" class="pk">NUMBER(18)</tspan><tspan x="324.7" dy="3.55">VARCHAR2(64)</tspan><tspan x="324.7" dy="3.55">NUMBER(10)</tspan><tspan x="324.7" dy="3.55">CHAR(1)</tspan><tspan x="324.7" dy="3.55">NUMBER(12,2)</tspan><tspan x="324.7" dy="3.55">NUMBER(10)</tspan><tspan x="324.7" dy="3.55">CHAR(1)</tspan><tspan x="324.7" dy="3.55">CHAR(1)</tspan><tspan x="324.7" dy="3.55">CHAR(1)</tspan><tspan x="324.7" dy="3.55">CHAR(1)</tspan><tspan x="324.7" dy="3.55">CHAR(1)</tspan><tspan x="324.7" dy="3.55">VARCHAR2(200)</tspan><tspan x="324.7" dy="3.55">DATE</tspan></text>
<text x="351" y="49" class="pk">&lt;pk&gt;</text>
</g>

<g id="t_member_point">
<rect class="box" x="290" y="99" width="80.5" height="57"/>
<rect class="hd" x="290" y="99" width="80.5" height="4"/>
<text class="t" x="330.25" y="102.2">T_MEMBER_POINT</text>
<text x="291.7" y="103.4"><tspan x="291.7" dy="3.6" class="pk">RECORD_ID</tspan><tspan x="291.7" dy="3.6">USER_ID</tspan><tspan x="291.7" dy="3.6">CHANGE_TYPE</tspan><tspan x="291.7" dy="3.6">CHANGE_COUNT</tspan><tspan x="291.7" dy="3.6">OPERATE_MAN</tspan><tspan x="291.7" dy="3.6">OPERATE_NOTE</tspan><tspan x="291.7" dy="3.6">SOURCE_TYPE</tspan><tspan x="291.7" dy="3.6">ORDER_ID</tspan><tspan x="291.7" dy="3.6">BALANCE</tspan><tspan x="291.7" dy="3.6">EXPIRE_TIME (DEFAULT ONE YEAR)</tspan><tspan x="291.7" dy="3.6">STATUS</tspan><tspan x="291.7" dy="3.6">VERSION</tspan><tspan x="291.7" dy="3.6">CREATE_TIME</tspan><tspan x="291.7" dy="3.6">UPDATE_TIME</tspan></text>
<text x="342" y="103.4"><tspan x="342" dy="3.6" class="pk">NUMBER(18)</tspan><tspan x="342" dy="3.6">NUMBER(18)</tspan><tspan x="342" dy="3.6">CHAR(1)</tspan><tspan x="342" dy="3.6">NUMBER(10)</tspan><tspan x="342" dy="3.6">VARCHAR2(64)</tspan><tspan x="342" dy="3.6">VARCHAR2(200)</tspan><tspan x="342" dy="3.6">CHAR(1)</tspan><tspan x="342" dy="3.6">NUMBER(18)</tspan><tspan x="342" dy="3.6">NUMBER(10)</tspan><tspan x="342" dy="3.6">DATE</tspan><tspan x="342" dy="3.6">CHAR(1)</tspan><tspan x="342" dy="3.6">NUMBER(10)</tspan><tspan x="342" dy="3.6">DATE</tspan><tspan x="342" dy="3.6">DATE</tspan></text>
<text x="366.5" y="107" class="pk">&lt;p</text>
</g>

<g id="t_login_log">
<rect class="box" x="291.5" y="161.5" width="71.5" height="33"/>
<rect class="hd" x="291.5" y="161.5" width="71.5" height="3.6"/>
<text class="t" x="327.25" y="164.4">T_LOGIN_LOG</text>
<text x="292.7" y="165.1"><tspan x="292.7" dy="3.6" class="pk">LOG_ID</tspan><tspan x="292.7" dy="3.6">USER_ID (LOGIN ACCOUNT)</tspan><tspan x="292.7" dy="3.6">LOGIN_IP (REMOTE HOST)</tspan><tspan x="292.7" dy="3.6">CITY</tspan><tspan x="292.7" dy="3.6">LOGIN_TYPE</tspan><tspan x="292.7" dy="3.6">PROVINCE</tspan><tspan x="292.7" dy="3.6">CREATE_TIME</tspan></text>
<text x="327.3" y="165.1"><tspan x="327.3" dy="3.6" class="pk">NUMBER(18)</tspan><tspan x="327.3" dy="3.6">NUMBER(18)</tspan><tspan x="327.3" dy="3.6">VARCHAR2(64)</tspan><tspan x="327.3" dy="3.6">VARCHAR2(64)</tspan><tspan x="327.3" dy="3.6">CHAR(1)</tspan><tspan x="327.3" dy="3.6">VARCHAR2(64)</tspan><tspan x="327.3" dy="3.6">DATE</tspan></text>
</g>

<g id="t_flash_promotion_session">
<rect class="box" x="301.5" y="205.5" width="83" height="113"/>
<rect class="hd" x="301.5" y="205.5" width="83" height="4.5"/>
<text class="t" x="343" y="208.9">T_FLASH_PROMOTION_SESSION</text>
<text x="302.7" y="210.75"><tspan x="302.7" dy="3.55" class="pk">SESSION_ID</tspan><tspan x="302.7" dy="3.55">PROMOTION_ID</tspan><tspan x="302.7" dy="3.55">NAME</tspan><tspan x="302.7" dy="3.55">START_TIME</tspan><tspan x="302.7" dy="3.55">END_TIME</tspan><tspan x="302.7" dy="3.55">STATUS</tspan><tspan x="302.7" dy="3.55">PRODUCT_ID</tspan><tspan x="302.7" dy="3.55">PRODUCT_SKU_ID</tspan><tspan x="302.7" dy="3.55">FLASH_PRICE</tspan><tspan x="302.7" dy="3.55">FLASH_COUNT</tspan><tspan x="302.7" dy="3.55">FLASH_LIMIT</tspan><tspan x="302.7" dy="3.55">SORT</tspan><tspan x="302.7" dy="3.55">LIMIT_TYPE</tspan><tspan x="302.7" dy="3.55">LIMIT_NUM</tspan><tspan x="302.7" dy="3.55">SALE_COUNT</tspan><tspan x="302.7" dy="3.55">LOCK_COUNT</tspan><tspan x="302.7" dy="3.55">VIEW_COUNT</tspan><tspan x="302.7" dy="3.55">SHOP_ID</tspan><tspan x="302.7" dy="3.55">SHOP_NAME</tspan><tspan x="302.7" dy="3.55">AUDIT_STATUS</tspan><tspan x="302.7" dy="3.55">AUDIT_TIME</tspan><tspan x="302.7" dy="3.55">AUDIT_MAN</tspan><tspan x="302.7" dy="3.55">NOTIFY_FLAG</tspan><tspan x="302.7" dy="3.55">NOTIFY_TIME</tspan><tspan x="302.7" dy="3.55">CREATE_BY</tspan><tspan x="302.7" dy="3.55">CREATE_TIME</tspan><tspan x="302.7" dy="3.55">UPDATE_BY</tspan><tspan x="302.7" dy="3.55">UPDATE_TIME</tspan></text>
<text x="343" y="210.75"><tspan x="343" dy="3.55" class="pk">NUMBER(18)</tspan><tspan x="343" dy="3.55">NUMBER(18)</tspan><tspan x="343" dy="3.55">VARCHAR2(200)</tspan><tspan x="343" dy="3.55">DATE</tspan><tspan x="343" dy="3.55">DATE</tspan><tspan x="343" dy="3.55">CHAR(1)</tspan><tspan x="343" dy="3.55">NUMBER(18)</tspan><tspan x="343" dy="3.55">NUMBER(18)</tspan><tspan x="343" dy="3.55">NUMBER(12,2)</tspan><tspan x="343" dy="3.55">NUMBER(10)</tspan><tspan x="343" dy="3.55">NUMBER(10)</tspan><tspan x="343" dy="3.55">NUMBER(10)</tspan><tspan x="343" dy="3.55">CHAR(1)</tspan><tspan x="343" dy="3.55">NUMBER(10)</tspan><tspan x="343" dy="3.55">NUMBER(10)</tspan><tspan x="343" dy="3.55">NUMBER(10)</tspan><tspan x="343" dy="3.55">NUMBER(10)</tspan><tspan x="343" dy="3.55">NUMBER(18)</tspan><tspan x="343" dy="3.55">VARCHAR2(100)</tspan><tspan x="343" dy="3.55">CHAR(1)</tspan><tspan x="343" dy="3.55">DATE</tspan><tspan x="343" dy="3.55">VARCHAR2(64)</tspan><tspan x="343" dy="3.55">CHAR(1)</tspan><tspan x="343" dy="3.55">DATE</tspan><tspan x="343" dy="3.55">VARCHAR2(32)</tspan><tspan x="343" dy="3.55">DATE</tspan><tspan x="343" dy="3.55">VARCHAR2(32)</tspan><tspan x="343" dy="3.55">DATE</tspan></text>
<text x="367" y="214.3" class="pk">&lt;pk&gt;</text>
</g>

<g id="t_product_comment">
<rect class="box" x="375.5" y="41" width="82" height="87.5"/>
<rect class="hd" x="375.5" y="41" width="82" height="4"/>
<text class="t" x="416.5" y="44.2">T_PRODUCT_COMMENT</text>
<text x="376.7" y="44.45"><tspan x="376.7" dy="3.55" class="pk">COMMENT_ID</tspan><tspan x="376.7" dy="3.55">PRODUCT_ID</tspan><tspan x="376.7" dy="3.55">USER_ID</tspan><tspan x="376.7" dy="3.55">MEMBER_NICK</tspan><tspan x="376.7" dy="3.55">PRODUCT_NAME</tspan><tspan x="376.7" dy="3.55">STAR</tspan><tspan x="376.7" dy="3.55">MEMBER_IP</tspan><tspan x="376.7" dy="3.55">SHOW_STATUS</tspan><tspan x="376.7" dy="3.55">PRODUCT_ATTR</tspan><tspan x="376.7" dy="3.55">COLLECT_COUNT</tspan><tspan x="376.7" dy="3.55">READ_COUNT</tspan><tspan x="376.7" dy="3.55">CONTENT</tspan><tspan x="376.7" dy="3.55">PICS</tspan><tspan x="376.7" dy="3.55">MEMBER_ICON</tspan><tspan x="376.7" dy="3.55">REPLY_COUNT</tspan><tspan x="376.7" dy="3.55">ORDER_ID</tspan><tspan x="376.7" dy="3.55">SKU_ID</tspan><tspan x="376.7" dy="3.55">LIKE_COUNT</tspan><tspan x="376.7" dy="3.55">AUDIT_FLAG</tspan><tspan x="376.7" dy="3.55">AUDIT_TIME</tspan><tspan x="376.7" dy="3.55">CREATE_TIME</tspan><tspan x="376.7" dy="3.55">UPDATE_TIME</tspan><tspan x="376.7" dy="3.55">REMARK</tspan></text>
<text x="405.3" y="44.45"><tspan x="405.3" dy="3.55" class="pk">NUMBER(18)</tspan><tspan x="405.3" dy="3.55">NUMBER(18)</tspan><tspan x="405.3" dy="3.55">NUMBER(18)</tspan><tspan x="405.3" dy="3.55">VARCHAR2(64)</tspan><tspan x="405.3" dy="3.55">VARCHAR2(200)</tspan><tspan x="405.3" dy="3.55">NUMBER(2)</tspan><tspan x="405.3" dy="3.55">VARCHAR2(64)</tspan><tspan x="405.3" dy="3.55">CHAR(1)</tspan><tspan x="405.3" dy="3.55">VARCHAR2(500)</tspan><tspan x="405.3" dy="3.55">NUMBER(10)</tspan><tspan x="405.3" dy="3.55">NUMBER(10)</tspan><tspan x="405.3" dy="3.55">VARCHAR2(1000)</tspan><tspan x="405.3" dy="3.55">VARCHAR2(1000)</tspan><tspan x="405.3" dy="3.55">VARCHAR2(255)</tspan><tspan x="405.3" dy="3.55">NUMBER(10)</tspan><tspan x="405.3" dy="3.55">NUMBER(18)</tspan><tspan x="405.3" dy="3.55">NUMBER(18)</tspan><tspan x="405.3" dy="3.55">NUMBER(10)</tspan><tspan x="405.3" dy="3.55">CHAR(1)</tspan><tspan x="405.3" dy="3.55">DATE</tspan><tspan x="405.3" dy="3.55">DATE</tspan><tspan x="405.3" dy="3.55">DATE</tspan><tspan x="405.3" dy="3.55">VARCHAR2(200)</tspan></text>
<text x="431.3" y="48" class="pk">&lt;pk&gt;</text>
</g>

<g id="t_comment_reply">
<rect class="box" x="461.5" y="41.5" width="66" height="44"/>
<rect class="hd" x="461.5" y="41.5" width="66" height="3.6"/>
<text class="t" x="494.5" y="44.4">T_COMMENT_REPLY</text>
<text x="462.7" y="45.5"><tspan x="462.7" dy="3.5" class="pk">REPLY_ID</tspan><tspan x="462.7" dy="3.5">COMMENT_ID</tspan><tspan x="462.7" dy="3.5">USER_ID</tspan><tspan x="462.7" dy="3.5">MEMBER_NICK</tspan><tspan x="462.7" dy="3.5">MEMBER_ICON</tspan><tspan x="462.7" dy="3.5">CONTENT</tspan><tspan x="462.7" dy="3.5">TYPE</tspan><tspan x="462.7" dy="3.5">STATUS</tspan><tspan x="462.7" dy="3.5">REPLY_TIME</tspan><tspan x="462.7" dy="3.5">CREATE_TIME</tspan><tspan x="462.7" dy="3.5">UPDATE_TIME</tspan></text>
<text x="488" y="45.5"><tspan x="488" dy="3.5" class="pk">NUMBER(18)</tspan><tspan x="488" dy="3.5">NUMBER(18)</tspan><tspan x="488" dy="3.5">NUMBER(18)</tspan><tspan x="488" dy="3.5">VARCHAR2(64)</tspan><tspan x="488" dy="3.5">VARCHAR2(255)</tspan><tspan x="488" dy="3.5">VARCHAR2(1000)</tspan><tspan x="488" dy="3.5">CHAR(1)</tspan><tspan x="488" dy="3.5">CHAR(1)</tspan><tspan x="488" dy="3.5">DATE</tspan><tspan x="488" dy="3.5">DATE</tspan><tspan x="488" dy="3.5">DATE</tspan></text>
<text x="510.3" y="49" class="pk">&lt;pk&gt;</text>
</g>

<g id="t_config">
<rect class="box" x="400.5" y="160.5" width="80" height="44"/>
<rect class="hd" x="400.5" y="160.5" width="80" height="4"/>
<text class="t" x="440.5" y="163.7">T_CONFIG</text>
<text x="401.7" y="165.1"><tspan x="401.7" dy="3.6">CONFIG_KEY</tspan><tspan x="401.7" dy="3.6">VALUE</tspan></text>
<text x="418.7" y="165.1"><tspan x="418.7" dy="3.6">VARCHAR2(64)</tspan><tspan x="418.7" dy="3.6">VARCHAR2(500)</tspan></text>
</g>
</svg>
